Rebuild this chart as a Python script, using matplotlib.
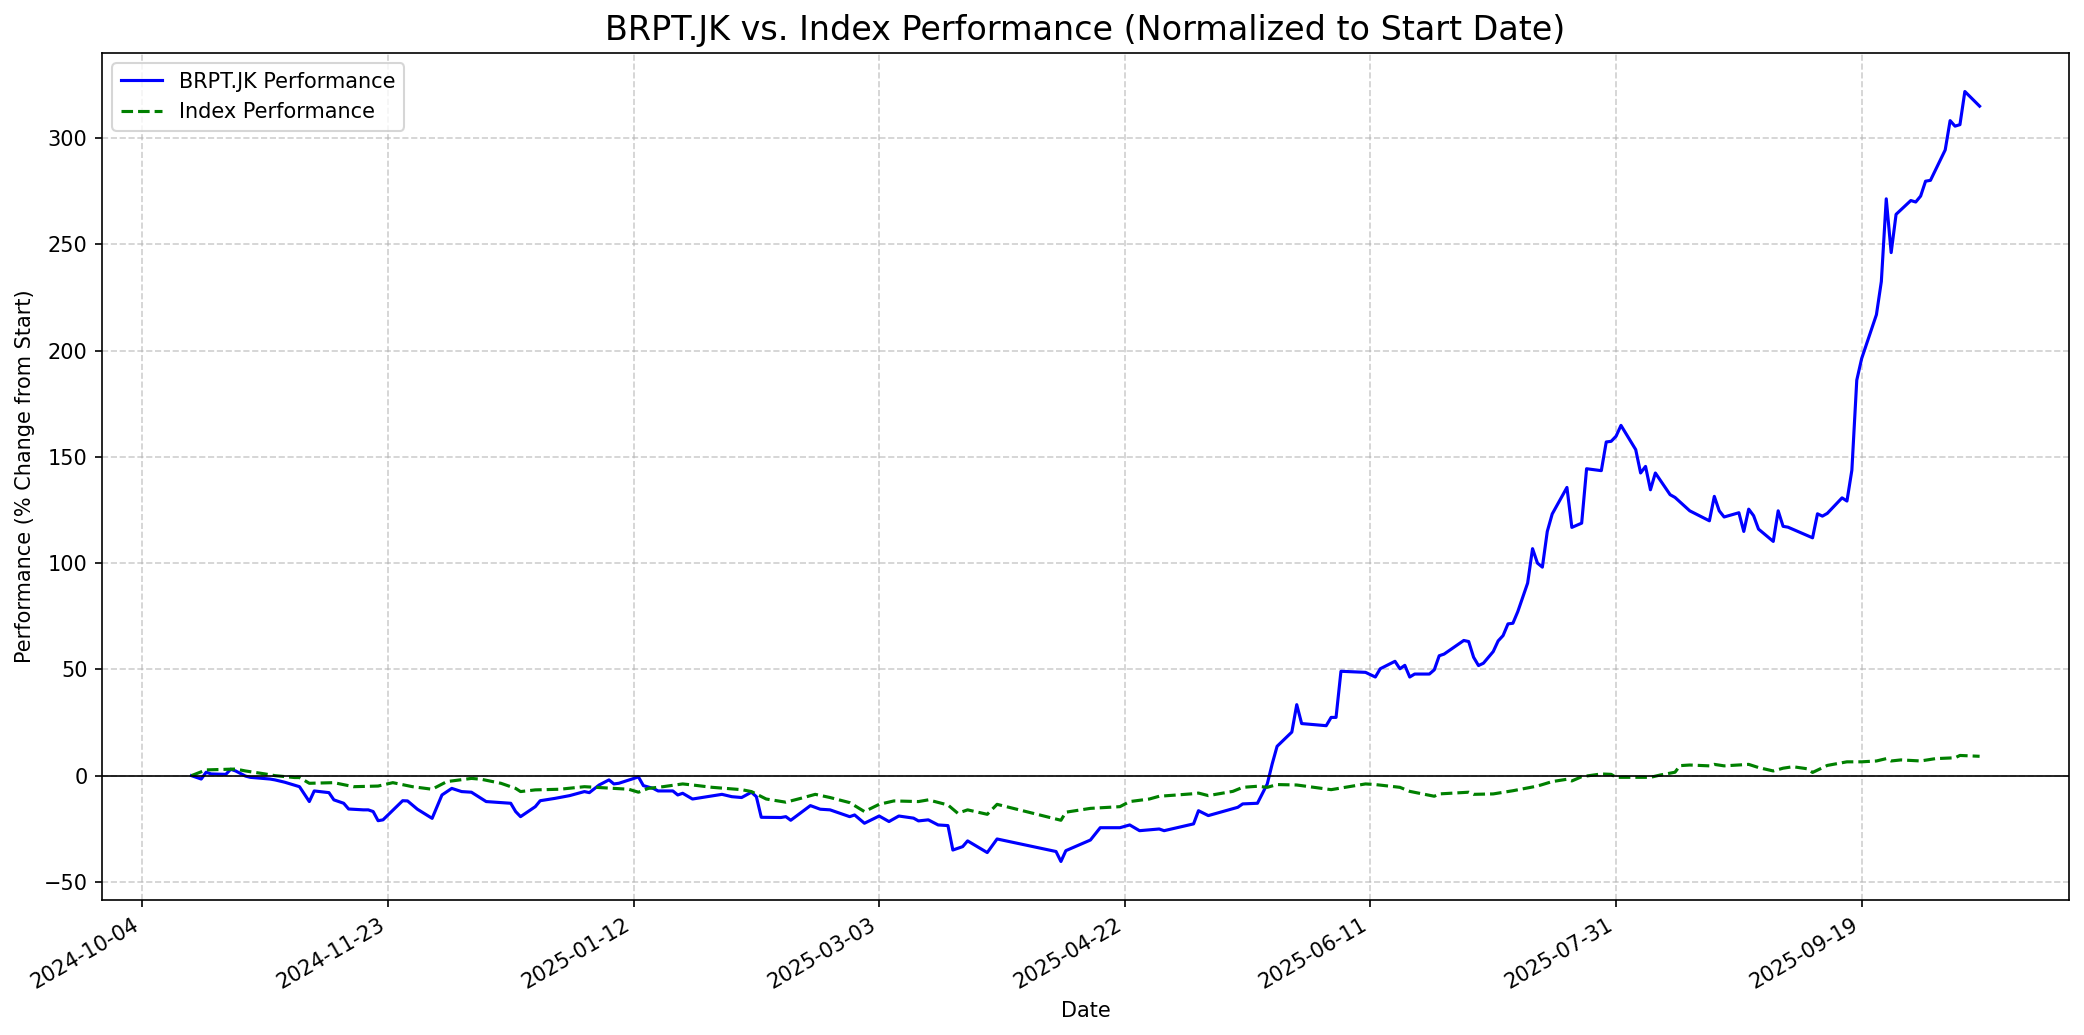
import matplotlib
matplotlib.use("Agg")
import matplotlib.pyplot as plt
import matplotlib.dates as mdates
import pandas as pd

stock_dates = [
    "2024-10-14", "2024-10-16", "2024-10-17", "2024-10-18", "2024-10-21", "2024-10-22", "2024-10-23",
    "2024-10-25", "2024-10-26", "2024-10-30", "2024-10-31", "2024-11-02", "2024-11-05", "2024-11-07",
    "2024-11-08", "2024-11-11", "2024-11-12", "2024-11-14", "2024-11-15", "2024-11-18", "2024-11-19",
    "2024-11-20", "2024-11-21", "2024-11-22", "2024-11-26", "2024-11-27", "2024-11-29", "2024-12-02",
    "2024-12-04", "2024-12-06", "2024-12-08", "2024-12-10", "2024-12-12", "2024-12-13", "2024-12-16",
    "2024-12-18", "2024-12-19", "2024-12-20", "2024-12-23", "2024-12-24", "2024-12-27", "2024-12-30",
    "2025-01-02", "2025-01-03", "2025-01-05", "2025-01-07", "2025-01-08", "2025-01-09", "2025-01-13",
    "2025-01-14", "2025-01-16", "2025-01-17", "2025-01-20", "2025-01-21", "2025-01-22", "2025-01-24",
    "2025-01-27", "2025-01-30", "2025-02-01", "2025-02-03", "2025-02-05", "2025-02-06", "2025-02-07",
    "2025-02-11", "2025-02-12", "2025-02-13", "2025-02-17", "2025-02-19", "2025-02-21", "2025-02-25",
    "2025-02-26", "2025-02-28", "2025-03-03", "2025-03-05", "2025-03-07", "2025-03-10", "2025-03-11",
    "2025-03-13", "2025-03-15", "2025-03-17", "2025-03-18", "2025-03-20", "2025-03-21", "2025-03-25",
    "2025-03-27", "2025-04-08", "2025-04-09", "2025-04-10", "2025-04-15", "2025-04-17", "2025-04-21",
    "2025-04-23", "2025-04-25", "2025-04-27", "2025-04-29", "2025-04-30", "2025-05-06", "2025-05-07",
    "2025-05-09", "2025-05-15", "2025-05-16", "2025-05-19", "2025-05-21", "2025-05-22", "2025-05-23",
    "2025-05-26", "2025-05-27", "2025-05-28", "2025-06-02", "2025-06-03", "2025-06-04", "2025-06-05",
    "2025-06-10", "2025-06-12", "2025-06-13", "2025-06-16", "2025-06-17", "2025-06-18", "2025-06-19",
    "2025-06-20", "2025-06-23", "2025-06-24", "2025-06-25", "2025-06-26", "2025-06-30", "2025-07-01",
    "2025-07-02", "2025-07-03", "2025-07-04", "2025-07-06", "2025-07-07", "2025-07-08", "2025-07-09",
    "2025-07-10", "2025-07-11", "2025-07-13", "2025-07-14", "2025-07-15", "2025-07-16", "2025-07-17",
    "2025-07-18", "2025-07-21", "2025-07-22", "2025-07-24", "2025-07-25", "2025-07-28", "2025-07-29",
    "2025-07-30", "2025-07-31", "2025-08-01", "2025-08-04", "2025-08-05", "2025-08-06", "2025-08-07",
    "2025-08-08", "2025-08-11", "2025-08-12", "2025-08-15", "2025-08-19", "2025-08-20", "2025-08-21",
    "2025-08-22", "2025-08-25", "2025-08-26", "2025-08-27", "2025-08-28", "2025-08-29", "2025-09-01",
    "2025-09-02", "2025-09-03", "2025-09-04", "2025-09-09", "2025-09-10", "2025-09-11", "2025-09-12",
    "2025-09-15", "2025-09-16", "2025-09-17", "2025-09-18", "2025-09-19", "2025-09-22", "2025-09-23",
    "2025-09-24", "2025-09-25", "2025-09-26", "2025-09-29", "2025-09-30", "2025-10-01", "2025-10-02",
    "2025-10-03", "2025-10-06", "2025-10-07", "2025-10-08", "2025-10-09", "2025-10-10", "2025-10-13",
]
stock_perf = [
    0.0, -1.6, 1.6, 0.8, 0.6, 3.0, 2.2,
    -0.2, -0.8, -1.6, -2.0, -3.1, -5.2, -12.2,
    -7.2, -8.0, -11.4, -13.0, -15.7, -16.1, -16.1,
    -16.9, -21.2, -20.8, -11.8, -11.9, -15.8, -20.1,
    -9.1, -6.0, -7.5, -7.8, -10.7, -12.2, -12.7,
    -13.0, -16.9, -19.3, -14.6, -11.8, -10.7, -9.4,
    -7.5, -8.0, -4.4, -2.0, -3.9, -3.6, -0.6,
    -4.7, -6.0, -7.2, -7.2, -9.1, -8.3, -11.0,
    -9.9, -8.8, -9.9, -10.3, -7.8, -9.9, -19.6,
    -19.7, -19.3, -21.0, -14.1, -15.8, -16.1, -19.3,
    -18.5, -22.4, -19.0, -21.6, -19.0, -20.0, -21.3,
    -20.8, -23.2, -23.5, -35.0, -33.4, -30.7, -36.2,
    -29.8, -35.7, -40.4, -35.3, -30.3, -24.5, -24.5,
    -23.2, -25.9, -25.5, -25.1, -25.9, -22.7, -16.5,
    -18.8, -14.9, -13.3, -13.0, -3.9, 5.5, 13.8,
    20.5, 33.4, 24.5, 23.5, 27.4, 27.4, 49.1,
    48.6, 46.4, 50.3, 53.8, 50.3, 51.9, 46.4,
    47.8, 47.8, 49.8, 56.4, 57.2, 63.6, 63.1,
    55.7, 51.8, 52.9, 58.4, 63.4, 65.9, 71.4,
    71.7, 77.2, 90.6, 106.8, 100.0, 98.1, 114.9,
    123.1, 135.6, 116.8, 118.8, 144.4, 143.5, 157.0,
    157.3, 159.7, 164.8, 153.4, 142.4, 145.5, 134.5,
    142.4, 132.2, 130.9, 124.6, 119.9, 131.4, 124.6,
    121.7, 123.7, 114.9, 125.4, 122.3, 116.0, 110.2,
    124.6, 117.3, 116.9, 111.9, 123.2, 122.1, 123.4,
    130.7, 129.2, 143.7, 186.1, 196.3, 216.9, 232.5,
    271.4, 246.1, 264.1, 270.6, 269.9, 272.7, 279.7,
    280.1, 294.4, 308.2, 305.6, 306.3, 321.9, 315.0,
]

index_dates = [
    "2024-10-14", "2024-10-17", "2024-10-23", "2024-10-25", "2024-10-29", "2024-10-31", "2024-11-04",
    "2024-11-05", "2024-11-07", "2024-11-12", "2024-11-16", "2024-11-21", "2024-11-24", "2024-11-28",
    "2024-12-02", "2024-12-05", "2024-12-10", "2024-12-12", "2024-12-16", "2024-12-19", "2024-12-20",
    "2024-12-23", "2024-12-28", "2025-01-02", "2025-01-05", "2025-01-11", "2025-01-13", "2025-01-15",
    "2025-01-18", "2025-01-22", "2025-01-24", "2025-01-28", "2025-02-03", "2025-02-05", "2025-02-08",
    "2025-02-12", "2025-02-15", "2025-02-18", "2025-02-21", "2025-02-25", "2025-02-28", "2025-03-03",
    "2025-03-06", "2025-03-11", "2025-03-13", "2025-03-17", "2025-03-19", "2025-03-21", "2025-03-25",
    "2025-03-27", "2025-04-09", "2025-04-10", "2025-04-15", "2025-04-21", "2025-04-23", "2025-04-27",
    "2025-04-29", "2025-05-02", "2025-05-06", "2025-05-07", "2025-05-09", "2025-05-14", "2025-05-16",
    "2025-05-19", "2025-05-21", "2025-05-23", "2025-05-27", "2025-06-03", "2025-06-10", "2025-06-12",
    "2025-06-17", "2025-06-19", "2025-06-24", "2025-06-25", "2025-07-01", "2025-07-02", "2025-07-06",
    "2025-07-10", "2025-07-15", "2025-07-18", "2025-07-21", "2025-07-22", "2025-07-24", "2025-07-28",
    "2025-07-30", "2025-07-31", "2025-08-04", "2025-08-07", "2025-08-09", "2025-08-12", "2025-08-13",
    "2025-08-15", "2025-08-19", "2025-08-20", "2025-08-22", "2025-08-27", "2025-08-29", "2025-09-01",
    "2025-09-03", "2025-09-05", "2025-09-08", "2025-09-09", "2025-09-12", "2025-09-16", "2025-09-19",
    "2025-09-22", "2025-09-24", "2025-09-25", "2025-09-27", "2025-10-01", "2025-10-04", "2025-10-08",
    "2025-10-09", "2025-10-13",
]
index_perf = [
    0.0, 2.7, 3.1, 2.2, 0.8, 0.0, -0.9,
    -0.9, -3.6, -3.3, -5.2, -4.9, -3.3, -5.2,
    -6.4, -2.8, -1.3, -1.7, -3.6, -6.0, -7.5,
    -6.7, -6.4, -5.2, -5.6, -6.4, -7.8, -6.0,
    -5.2, -3.9, -4.4, -5.5, -6.6, -7.5, -11.0,
    -12.5, -10.7, -8.8, -10.3, -12.7, -16.9, -13.5,
    -11.9, -12.2, -11.4, -13.8, -17.7, -16.1, -18.2,
    -13.5, -21.0, -17.2, -15.4, -14.6, -12.2, -11.0,
    -9.7, -9.2, -8.5, -8.2, -9.4, -7.4, -5.5,
    -5.0, -5.5, -4.2, -4.4, -6.6, -3.9, -4.2,
    -5.5, -7.4, -9.7, -8.6, -7.8, -8.8, -8.6,
    -7.1, -4.9, -2.8, -1.7, -2.5, -0.5, 0.8,
    0.6, -0.8, -0.8, -0.8, 0.3, 1.6, 4.7,
    5.0, 4.6, 5.3, 4.6, 5.3, 3.8, 2.2,
    3.5, 4.2, 3.2, 1.5, 4.8, 6.5, 6.5,
    6.9, 8.0, 6.9, 7.4, 6.9, 8.0, 8.4,
    9.5, 9.1,
]

tick_labels = ["2024-10-04", "2024-11-23", "2025-01-12", "2025-03-03",
               "2025-04-22", "2025-06-11", "2025-07-31", "2025-09-19"]

stock_x = pd.to_datetime(stock_dates)
index_x = pd.to_datetime(index_dates)

fig = plt.figure(figsize=(2084 / 150, 1035 / 150), dpi=150)
ax = fig.add_axes([102 / 2084, 1 - 900 / 1035, (2069 - 102) / 2084, (900 - 53) / 1035])

ax.plot(stock_x, stock_perf, color="blue", linewidth=1.5, label="BRPT.JK Performance")
ax.plot(index_x, index_perf, color="green", linestyle="--", linewidth=1.5, label="Index Performance")
ax.axhline(0, color="black", linewidth=0.8)

ax.set_title("BRPT.JK vs. Index Performance (Normalized to Start Date)", fontsize=16)
ax.set_xlabel("Date")
ax.set_ylabel("Performance (% Change from Start)")
ax.grid(True, linestyle="--", alpha=0.6)
ax.legend(loc="upper left")

ax.set_xticks(pd.to_datetime(tick_labels))
ax.xaxis.set_major_formatter(mdates.DateFormatter("%Y-%m-%d"))
for lbl in ax.get_xticklabels():
    lbl.set_rotation(30)
    lbl.set_ha("right")

fig.savefig("out.png", dpi=150)
